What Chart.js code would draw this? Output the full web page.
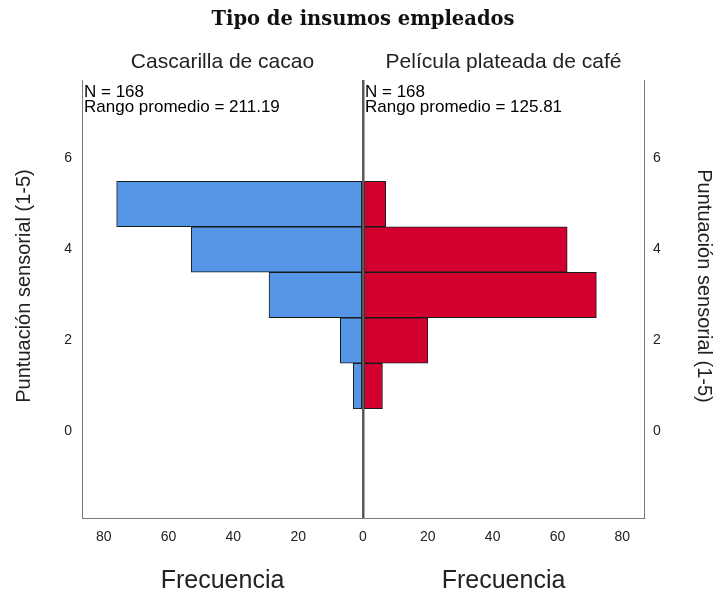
<!DOCTYPE html>
<html>
<head>
<meta charset="utf-8">
<title>Tipo de insumos empleados</title>
<script src="https://cdn.jsdelivr.net/npm/chart.js@4.4.1/dist/chart.umd.min.js"></script>
<style>
    html, body { margin: 0; padding: 0; background: #fff; }
    canvas { display: block; }
</style>
</head>
<body>
<canvas id="myChart" width="717" height="592"></canvas>
<script>
// Datos del histograma (frecuencia por puntuación)
const puntuaciones = [1, 2, 3, 4, 5];
const cascarillaCacao = [3, 7, 29, 53, 76];
const peliculaCafe = [6, 20, 72, 63, 7];
const ticksFrecuencia = [-80, -60, -40, -20, 0, 20, 40, 60, 80];
const ticksPuntuacion = [0, 2, 4, 6];
const grupos = ["Cascarilla de cacao", "Película plateada de café"];
const resumen = [
    ["N = 168", "Rango promedio = 211.19"],
    ["N = 168", "Rango promedio = 125.81"],
];
const tituloY = "Puntuación sensorial (1-5)";
const tituloX = "Frecuencia";

const fuente = "'Liberation Sans', Arial, sans-serif";
Chart.defaults.font.family = fuente;
Chart.defaults.color = "#222";

// Textos extra: nombres de grupo, N, rango promedio y títulos de ejes
const textos = {
    id: "textos",
    afterDraw(chart) {
        const { ctx, chartArea: area, scales: { x } } = chart;
        const izq = x.getPixelForValue(x.min);
        const cero = x.getPixelForValue(0);
        const der = x.getPixelForValue(x.max);
        const centros = [(izq + cero) / 2, (cero + der) / 2];

        ctx.save();
        ctx.fillStyle = "#222";
        ctx.textBaseline = "alphabetic";

        ctx.font = "21px " + fuente;
        ctx.textAlign = "center";
        grupos.forEach((g, i) => ctx.fillText(g, centros[i], area.top - 12));

        ctx.fillStyle = "#000";
        ctx.font = "17px " + fuente;
        ctx.textAlign = "left";
        [izq, cero].forEach((x0, i) => {
            ctx.fillText(resumen[i][0], x0 + 2, area.top + 17);
            ctx.fillText(resumen[i][1], x0 + 2, area.top + 32);
        });

        ctx.fillStyle = "#222";
        ctx.font = "25px " + fuente;
        ctx.textAlign = "center";
        centros.forEach((c) => ctx.fillText(tituloX, c, area.bottom + 70));

        const yMedio = (area.top + area.bottom) / 2 - 13;
        ctx.font = "20px " + fuente;
        ctx.save();
        ctx.translate(area.left - 52.5, yMedio);
        ctx.rotate(-Math.PI / 2);
        ctx.fillText(tituloY, 0, 0);
        ctx.restore();
        ctx.save();
        ctx.translate(area.right + 54, yMedio);
        ctx.rotate(Math.PI / 2);
        ctx.fillText(tituloY, 0, 0);
        ctx.restore();
        ctx.restore();
    },
};

const ejeY = (posicion, relleno) => ({
    type: "linear",
    position: posicion,
    offset: false,
    min: -1.9,
    max: 7.725,
    afterBuildTicks: (s) => { s.ticks = ticksPuntuacion.map((v) => ({ value: v })); },
    afterFit: (s) => { s.width = 73; },
    grid: { display: false, drawTicks: false },
    border: { display: true, color: "#7a7a7a", width: 1 },
    ticks: { padding: relleno, font: { size: 14 }, color: "#222" },
});

const ctx = document.getElementById("myChart").getContext("2d");
const myChart = new Chart(ctx, {
    type: "bar",
    data: {
        datasets: [{
            label: grupos[0],
            data: puntuaciones.map((p, i) => ({ x: -cascarillaCacao[i], y: p })),
            backgroundColor: "#5596e6",
        }, {
            label: grupos[1],
            data: puntuaciones.map((p, i) => ({ x: peliculaCafe[i], y: p })),
            backgroundColor: "#d3002f",
        }, ],
    },
    options: {
        indexAxis: "y",
        responsive: false,
        animation: false,
        layout: { padding: { left: 9, right: 0, top: 0, bottom: 0 } },
        datasets: {
            bar: {
                grouped: false,
                barPercentage: 1,
                categoryPercentage: 1,
                borderColor: "#1a1a1a",
                borderWidth: 1,
                borderSkipped: false,
            },
        },
        plugins: {
            legend: { display: false },
            tooltip: { enabled: false },
            title: {
                display: true,
                text: "Tipo de insumos empleados",
                color: "#111",
                font: { family: "'DejaVu Serif', serif", size: 19.5, weight: "bold" },
                padding: { top: 8.6, bottom: 48 },
            },
        },
        scales: {
            x: {
                type: "linear",
                min: -86.7,
                max: 86.7,
                afterBuildTicks: (s) => { s.ticks = ticksFrecuencia.map((v) => ({ value: v })); },
                afterFit: (s) => { s.height = 74; },
                grid: {
                    drawTicks: false,
                    z: 1,
                    lineWidth: 2.5,
                    color: (c) => (c.tick && c.tick.value === 0 ? "#595959" : "rgba(0,0,0,0)"),
                },
                // el borde va en la misma capa que la rejilla para que se calcule su posición
                border: { display: true, color: "#7a7a7a", width: 1, z: 1 },
                ticks: {
                    padding: 11,
                    font: { size: 14 },
                    color: "#222",
                    callback: (v) => Math.abs(v),
                },
            },
            y: ejeY("left", 10),
            y2: ejeY("right", 9),
        },
    },
    plugins: [textos],
});
</script>
</body>
</html>
